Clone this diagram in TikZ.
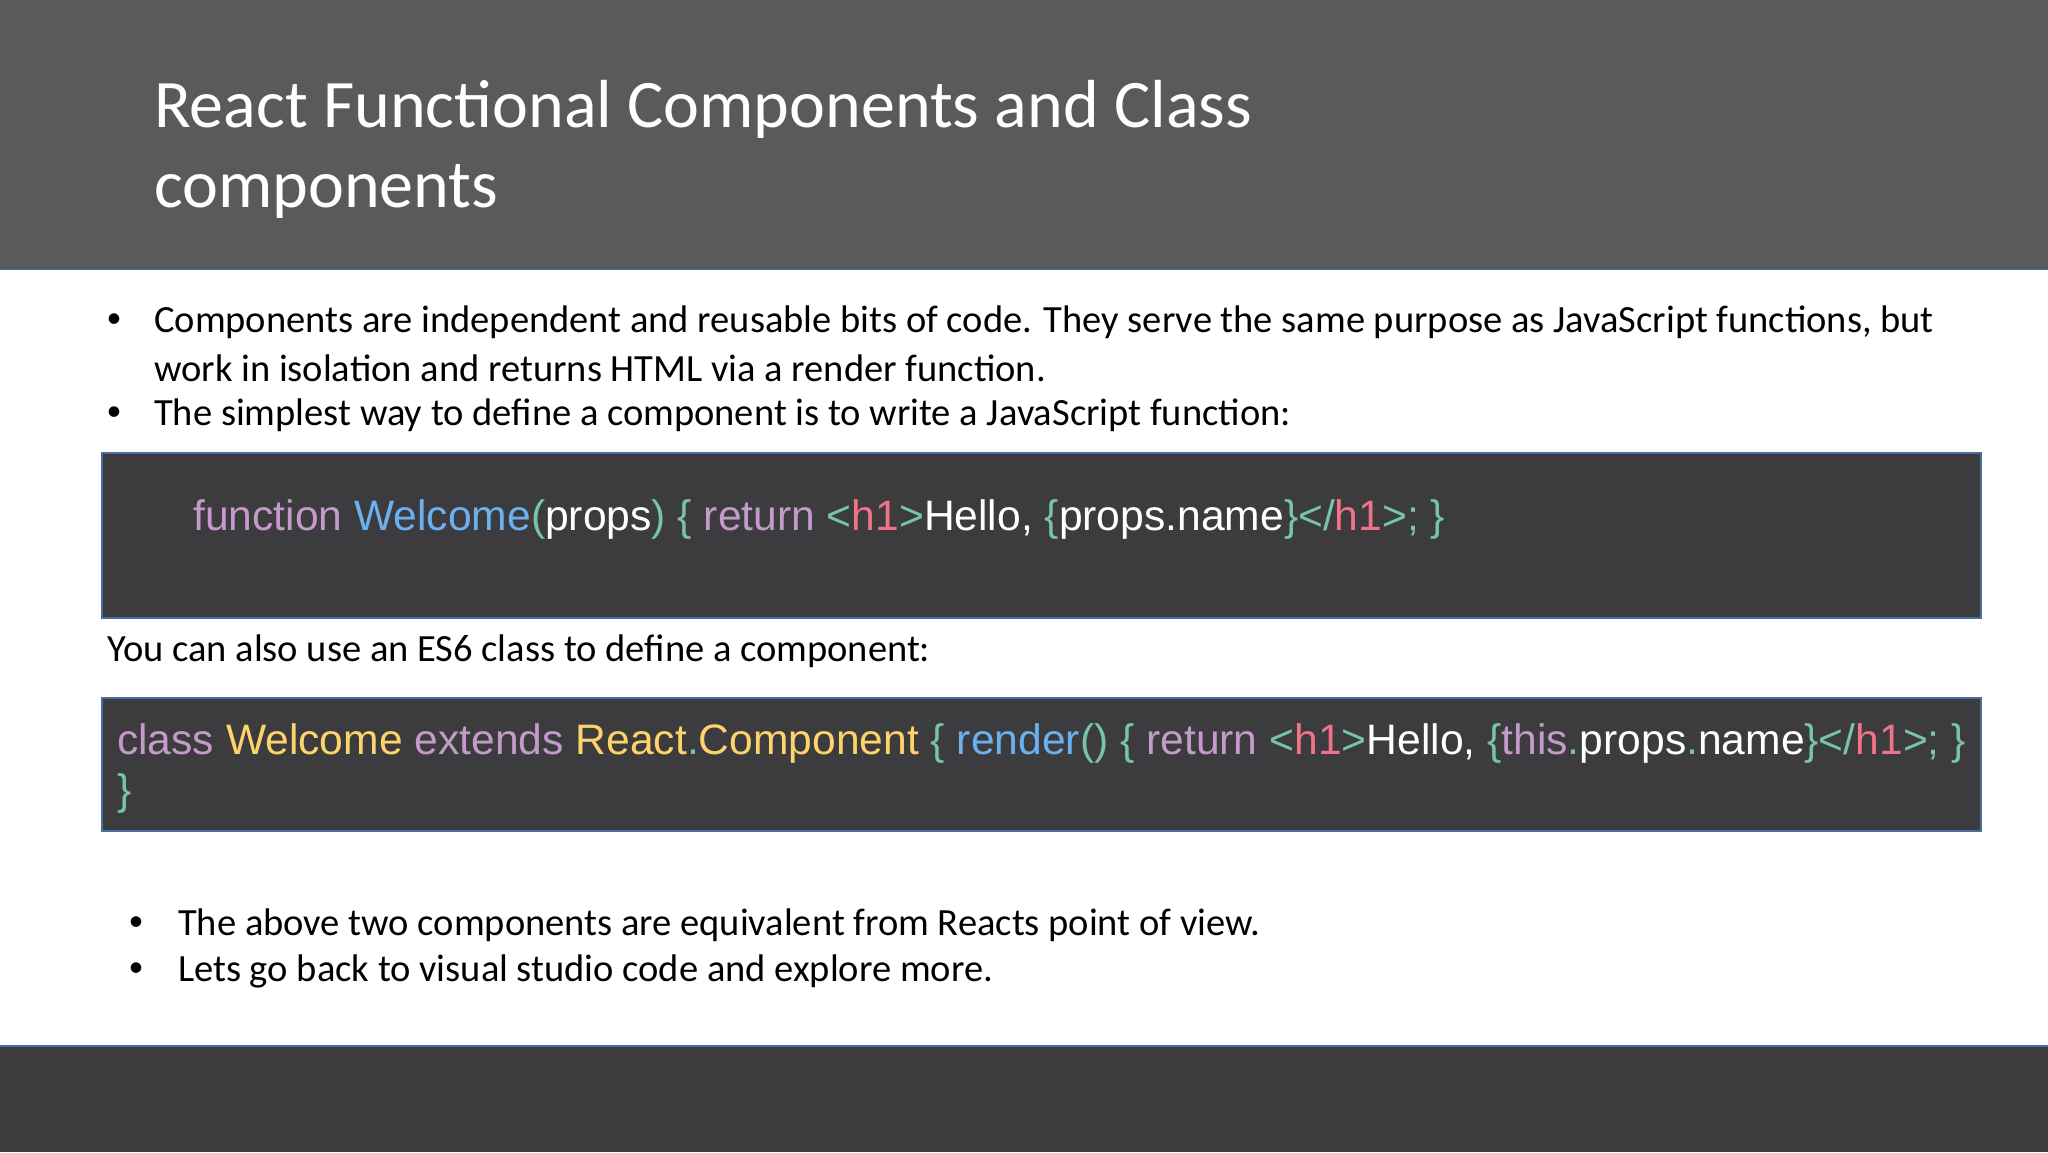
\documentclass[tikz,border=0pt]{standalone}
\usepackage{fontspec}
\setmainfont{Carlito}
\newfontfamily\codefont{Liberation Sans}
\definecolor{hdr}{HTML}{5A5A5A}
\definecolor{codebg}{HTML}{3C3B3D}
\definecolor{bord}{HTML}{4A6DA0}
\definecolor{kw}{HTML}{C39AC9}
\definecolor{fn}{HTML}{6CB0F0}
\definecolor{pu}{HTML}{77C4A9}
\definecolor{tg}{HTML}{F0728B}
\definecolor{cl}{HTML}{FFD36B}
\newcommand{\K}[1]{\textcolor{kw}{#1}}
\newcommand{\F}[1]{\textcolor{fn}{#1}}
\newcommand{\Pu}[1]{\textcolor{pu}{#1}}
\newcommand{\T}[1]{\textcolor{tg}{#1}}
\newcommand{\C}[1]{\textcolor{cl}{#1}}
\begin{document}
\begin{tikzpicture}[x=1pt,y=-1pt,
  body/.style={anchor=west,inner sep=0pt,font=\fontsize{38.5}{46}\selectfont,text=black},
  bul/.style={anchor=center,inner sep=0pt,font=\fontsize{30}{36}\selectfont},
  code/.style={anchor=west,inner sep=0pt,font=\codefont\fontsize{42.6}{50}\selectfont,text=white},
  codebox/.style={fill=codebg,draw=bord,line width=1.5pt}]
\useasboundingbox (0,0) rectangle (2048,1152);
\fill[white] (0,0) rectangle (2048,1152);
\fill[hdr] (0,0) rectangle (2048,269);
\draw[bord,line width=1pt] (0,269) -- (2048,269);
\node[anchor=west,inner sep=0pt,text=white,font=\fontsize{68}{80}\selectfont] (t1) at (154,109) {React Functional Components and Class};
\node[anchor=west,inner sep=0pt,text=white,font=\fontsize{68}{80}\selectfont] (t2) at (154,191) {components};
\node[bul] (d1) at (114,321) {•};
\node[body] (b1) at (154,322) {Components are independent and reusable bits of code. They serve the same purpose as JavaScript functions, but};
\node[body] (b1b) at (154,368) {work in isolation and returns HTML via a render function.};
\node[bul] (d2) at (114,414) {•};
\node[body] (b2) at (154,415) {The simplest way to define a component is to write a JavaScript function:};
\draw[codebox] (102,453) rectangle (1981,618);
\node[code] (c1) at (193,519) {\K{function} \F{Welcome}\Pu{(}props\Pu{)} \Pu{\{} \K{return} \Pu{<}\T{h1}\Pu{>}Hello, \Pu{\{}props.name\Pu{\}}\Pu{</}\T{h1}\Pu{>;} \Pu{\}}};
\node[body] (y1) at (107,651) {You can also use an ES6 class to define a component:};
\draw[codebox] (102,698) rectangle (1981,831);
\node[code] (c2) at (117,743) {\K{class} \C{Welcome} \K{extends} \C{React}\Pu{.}\C{Component} \Pu{\{} \F{render}\Pu{()} \Pu{\{} \K{return} \Pu{<}\T{h1}\Pu{>}Hello, \Pu{\{}\K{this}\Pu{.}props\Pu{.}name\Pu{\}}\Pu{</}\T{h1}\Pu{>;} \Pu{\}}};
\node[code] (c3) at (117,793) {\Pu{\}}};
\node[bul] (d3) at (136,924) {•};
\node[body] (e1) at (178,925) {The above two components are equivalent from Reacts point of view.};
\node[bul] (d4) at (136,970) {•};
\node[body] (e2) at (178,971) {Lets go back to visual studio code and explore more.};
\fill[codebg] (0,1046) rectangle (2048,1152);
\draw[bord,line width=1.5pt] (0,1046) -- (2048,1046);
\end{tikzpicture}
\end{document}
